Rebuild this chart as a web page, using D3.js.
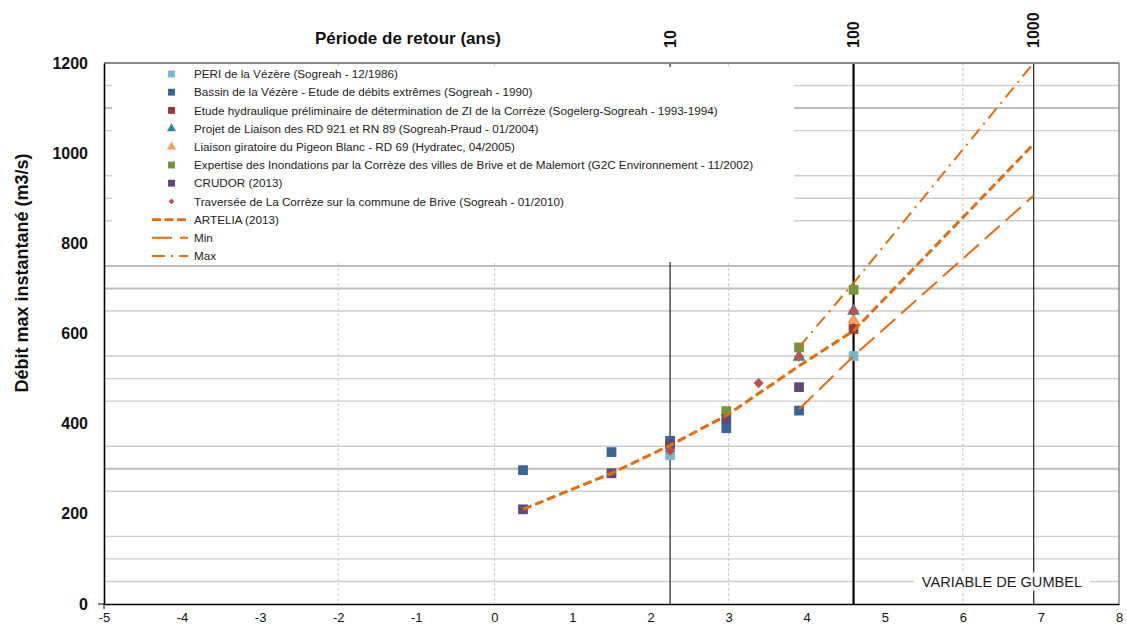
<!DOCTYPE html>
<html>
<head>
<meta charset="utf-8">
<script src="https://cdn.jsdelivr.net/npm/d3@7"></script>
<style>
  body { margin: 0; background: #fff; }
  svg { display: block; font-family: "Liberation Sans", Arial, sans-serif; }
</style>
</head>
<body>
<div id="chart"></div>
<script>
// return periods (years) -> discharge (m3/s)
const periData = [[10, 330], [100, 550]];
const bassinData = [[2, 297], [5, 337], [10, 362], [20, 390], [50, 429]];
const etudeData = [[100, 610]];
const projetData = [[50, 548], [100, 650]];
const liaisonData = [[100, 630]];
const expertiseData = [[20, 428], [50, 569], [100, 697]];
const crudorData = [[2, 210], [5, 290], [10, 354], [20, 410], [50, 481]];
const traverseeData = [[10, 340], [30, 490], [50, 549], [100, 650]];
const arteliaData = [[2, 210], [5, 290], [10, 352], [20, 418], [50, 528], [100, 606], [1000, 1020]];
const minData = [[50, 432], [100, 550], [1000, 906]];
const maxData = [[50, 570], [100, 712], [1000, 1200]];

const topTicks = [10, 100, 1000];
const bottomTicks = [-5, -4, -3, -2, -1, 0, 1, 2, 3, 4, 5, 6, 7, 8];
const leftTicks = [0, 200, 400, 600, 800, 1000, 1200];
const dashedGridX = [-2, 0, 3, 6];
const darkGridY = [1100, 750, 700, 300];

const markerSeries = [
    { name: "PERI de la Vézère (Sogreah - 12/1986)", data: periData, shape: "square", color: "#7ab8d2" },
    { name: "Bassin de la Vézère - Etude de débits extrêmes (Sogreah - 1990)", data: bassinData, shape: "square", color: "#3b649a" },
    { name: "Etude hydraulique préliminaire de détermination de ZI de la Corrèze (Sogelerg-Sogreah - 1993-1994)", data: etudeData, shape: "square", color: "#9a3a38" },
    { name: "Projet de Liaison des RD 921 et RN 89 (Sogreah-Praud - 01/2004)", data: projetData, shape: "triangle", color: "#31859c" },
    { name: "Liaison giratoire du Pigeon Blanc - RD 69 (Hydratec, 04/2005)", data: liaisonData, shape: "triangle", color: "#f5a05a" },
    { name: "Expertise des Inondations par la Corrèze des villes de Brive et de Malemort (G2C Environnement - 11/2002)", data: expertiseData, shape: "square", color: "#77933c" },
    { name: "CRUDOR (2013)", data: crudorData, shape: "square", color: "#5f4a7b" },
    { name: "Traversée de La Corrèze sur la commune de Brive (Sogreah - 01/2010)", data: traverseeData, shape: "diamond", color: "#c0504d" }
];
const lineSeries = [
    { name: "ARTELIA (2013)", data: arteliaData, dash: "9,4", width: 3, legendDash: "9,3.5" },
    { name: "Min", data: minData, dash: "20,8", width: 2, legendDash: "20,8" },
    { name: "Max", data: maxData, dash: "13,6,2,6", width: 2, legendDash: "13,6,2,6" }
];
const lineColor = "#e46c0a";

// Gumbel reduced variable
function gumbel(T) {
    return -Math.log(-Math.log(1 - 1 / T));
}

const width = 1127, height = 628;
const x = d3.scaleLinear().domain([-5, 8]).range([104, 1119]);
const y = d3.scaleLinear().domain([0, 1200]).range([604, 63]);

const svg = d3.create("svg")
    .attr("width", width)
    .attr("height", height)
    .attr("viewBox", [0, 0, width, height]);

// horizontal grid every 50, multiples of 200 left out
const gridY = d3.range(50, 1200, 50).filter(v => v % 200 !== 0);
svg.append("g")
    .selectAll("line")
    .data(gridY)
    .join("line")
    .attr("x1", x(-5)).attr("x2", x(8))
    .attr("y1", d => y(d)).attr("y2", d => y(d))
    .attr("stroke", d => darkGridY.includes(d) ? "#bdbdbd" : "#cdcdcd")
    .attr("stroke-width", d => darkGridY.includes(d) ? 2 : 1.4);

svg.append("g")
    .selectAll("line")
    .data(dashedGridX)
    .join("line")
    .attr("x1", d => x(d)).attr("x2", d => x(d))
    .attr("y1", y(1200)).attr("y2", y(0))
    .attr("stroke", "#c8c8c8")
    .attr("stroke-width", 1)
    .attr("stroke-dasharray", "3,2");

// return period lines
svg.append("g")
    .selectAll("line")
    .data(topTicks)
    .join("line")
    .attr("x1", d => x(gumbel(d))).attr("x2", d => x(gumbel(d)))
    .attr("y1", y(1200)).attr("y2", y(0))
    .attr("stroke", d => d === 100 ? "#000" : "#333")
    .attr("stroke-width", d => d === 100 ? 2.2 : 1.3);

// plot frame
svg.append("line")
    .attr("x1", x(-5)).attr("x2", x(8)).attr("y1", y(1200)).attr("y2", y(1200))
    .attr("stroke", "#888").attr("stroke-width", 2);
svg.append("line")
    .attr("x1", x(8)).attr("x2", x(8)).attr("y1", y(1200)).attr("y2", y(0))
    .attr("stroke", "#888").attr("stroke-width", 1.5);

// "VARIABLE DE GUMBEL" label with white background
const gumbelLabel = svg.append("g").attr("transform", `translate(${1002},${y(50)})`);
gumbelLabel.append("rect")
    .attr("x", -88).attr("y", -9).attr("width", 176).attr("height", 18)
    .attr("fill", "#fff");
gumbelLabel.append("text")
    .attr("text-anchor", "middle")
    .attr("dy", "0.36em")
    .attr("font-size", 14.6)
    .attr("fill", "#222")
    .text("VARIABLE DE GUMBEL");

// axes
svg.append("g")
    .attr("transform", `translate(0,${y(0)})`)
    .call(d3.axisBottom(x).tickValues(bottomTicks).tickSize(0).tickPadding(9).tickFormat(d => String(d)))
    .call(g => g.select(".domain").attr("stroke", "#000").attr("stroke-width", 1.6))
    .call(g => g.selectAll("text").attr("font-size", 13).attr("fill", "#111").attr("font-family", "Liberation Sans, Arial"));

svg.append("g")
    .attr("transform", `translate(${x(-5)},0)`)
    .call(d3.axisLeft(y).tickValues(leftTicks).tickSize(0).tickPadding(16).tickFormat(d => String(d)))
    .call(g => g.select(".domain").attr("stroke", "#000").attr("stroke-width", 1.6))
    .call(g => g.selectAll("text").attr("font-size", 16).attr("font-weight", "bold").attr("fill", "#111").attr("font-family", "Liberation Sans, Arial"));

// corner ticks
svg.append("path")
    .attr("d", `M${x(-5) - 6},${y(0)}H${x(-5)}V${y(0) + 5}`)
    .attr("stroke", "#000").attr("fill", "none");

// top axis (return periods)
svg.append("g")
    .selectAll("text")
    .data(topTicks)
    .join("text")
    .attr("transform", d => `translate(${x(gumbel(d))},48) rotate(-90)`)
    .attr("dy", "0.36em")
    .attr("font-size", 16)
    .attr("font-weight", "bold")
    .attr("fill", "#111")
    .text(d => d);

svg.append("text")
    .attr("x", 408).attr("y", 44)
    .attr("text-anchor", "middle")
    .attr("font-size", 17)
    .attr("font-weight", "bold")
    .attr("fill", "#111")
    .text("Période de retour (ans)");

svg.append("text")
    .attr("transform", `translate(22,273) rotate(-90)`)
    .attr("text-anchor", "middle")
    .attr("dy", "0.36em")
    .attr("font-size", 18)
    .attr("font-weight", "bold")
    .attr("fill", "#111")
    .text("Débit max instantané (m3/s)");

function markerPath(shape, size) {
    if (shape === "triangle") return d3.symbol(d3.symbolTriangle, size * 0.75)();
    if (shape === "diamond") return d3.symbol(d3.symbolSquare, size * 0.55)();
    return d3.symbol(d3.symbolSquare, size)();
}

// markers
markerSeries.forEach(s => {
    svg.append("g")
        .selectAll("path")
        .data(s.data)
        .join("path")
        .attr("d", markerPath(s.shape, 95))
        .attr("transform", d => `translate(${x(gumbel(d[0]))},${y(d[1])})${s.shape === "diamond" ? " rotate(45)" : ""}`)
        .attr("fill", s.color);
});

// lines
const line = d3.line()
    .x(d => x(gumbel(d[0])))
    .y(d => y(d[1]));

lineSeries.forEach(s => {
    svg.append("path")
        .datum(s.data)
        .attr("d", line)
        .attr("fill", "none")
        .attr("stroke", lineColor)
        .attr("stroke-width", s.width)
        .attr("stroke-dasharray", s.dash);
});

// legend
const legend = svg.append("g");
legend.append("rect")
    .attr("x", 112).attr("y", 67).attr("width", 682).attr("height", 195)
    .attr("fill", "#fff");

const rowY = i => 74 + i * 18.2;
const legendItems = legend.selectAll("g.item")
    .data([...markerSeries, ...lineSeries])
    .join("g")
    .attr("class", "item")
    .attr("transform", (d, i) => `translate(0,${rowY(i)})`);

legendItems.filter(d => d.shape)
    .append("path")
    .attr("d", d => markerPath(d.shape, d.shape === "diamond" ? 30 : 48))
    .attr("transform", d => `translate(171.5,0)${d.shape === "diamond" ? " rotate(45)" : ""}`)
    .attr("fill", d => d.color);

legendItems.filter(d => !d.shape)
    .append("line")
    .attr("x1", 152).attr("x2", 188)
    .attr("stroke", lineColor)
    .attr("stroke-width", d => d.width === 3 ? 2.8 : 2)
    .attr("stroke-dasharray", d => d.legendDash);

legendItems.append("text")
    .attr("x", 194)
    .attr("dy", "0.36em")
    .attr("font-size", 11.7)
    .attr("fill", "#222")
    .text(d => d.name);

document.getElementById("chart").appendChild(svg.node());
</script>
</body>
</html>
